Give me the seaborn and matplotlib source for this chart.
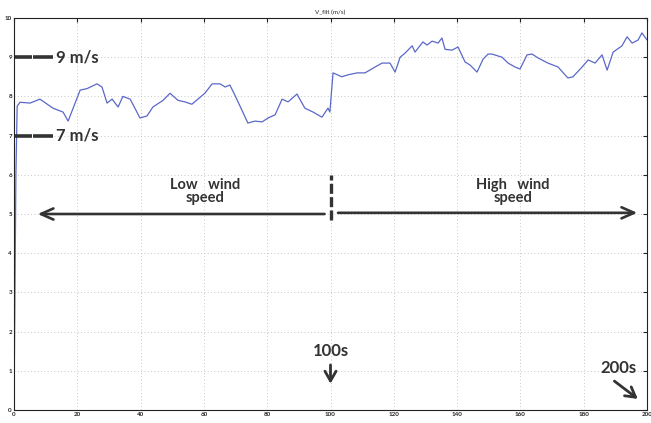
import matplotlib
matplotlib.use("Agg")
import matplotlib.pyplot as plt
import seaborn as sns
import pandas as pd

t = [0, 0.6, 1.0, 1.9, 5.1, 8.2, 12.3, 15.5, 17.1, 20.9, 23.1, 26.2, 27.8, 29.4, 31.0,
     32.9, 34.4, 36.7, 39.8, 42.0, 43.9, 47.1, 49.3, 51.8, 54.0, 56.2, 58.1, 60.3, 62.6,
     65.1, 66.7, 68.2, 69.8, 73.9, 76.1, 78.4, 80.3, 82.5, 84.7, 86.6, 89.4, 91.9, 94.5,
     97.3, 99.2, 99.8, 100.8, 103.6, 105.5, 108.4, 110.9, 114.1, 116.3, 118.8, 120.4,
     122.0, 123.5, 125.8, 126.7, 129.2, 130.5, 132.1, 134.0, 135.2, 136.2, 138.4, 140.3,
     142.5, 144.1, 146.3, 148.2, 149.8, 151.0, 154.2, 156.1, 158.3, 159.9, 162.1, 163.7,
     165.6, 168.7, 171.9, 175.0, 176.6, 179.5, 181.4, 183.6, 185.8, 187.4, 189.3, 192.1,
     193.7, 195.3, 197.2, 198.4, 200.0]
v = [0, 6.0, 7.75, 7.85, 7.83, 7.93, 7.7, 7.6, 7.37, 8.16, 8.2, 8.32, 8.24, 7.83, 7.93,
     7.73, 8.0, 7.93, 7.45, 7.5, 7.73, 7.9, 8.08, 7.9, 7.86, 7.8, 7.93, 8.08, 8.32,
     8.32, 8.24, 8.29, 8.03, 7.32, 7.37, 7.35, 7.45, 7.53, 7.93, 7.86, 8.06, 7.7, 7.6,
     7.47, 7.7, 7.6, 8.6, 8.5, 8.55, 8.6, 8.6, 8.75, 8.85, 8.85, 8.62,
     9.0, 9.1, 9.29, 9.13, 9.39, 9.31, 9.41, 9.36, 9.49, 9.2, 9.18, 9.26,
     8.88, 8.8, 8.62, 8.95, 9.08, 9.08, 9.0, 8.85, 8.75, 8.7, 9.06, 9.08,
     8.98, 8.85, 8.75, 8.47, 8.5, 8.75, 8.93, 8.85, 9.06, 8.67, 9.13, 9.29,
     9.52, 9.36, 9.44, 9.62, 9.44]

x_ticks = [0, 20, 40, 60, 80, 100, 120, 140, 160, 180, 200]
y_ticks = [0, 1, 2, 3, 4, 5, 6, 7, 8, 9, 10]
title = "V_filt (m/s)"

sns.set_style("white")
plt.rcParams['font.family'] = ['Lato', 'DejaVu Sans']

df = pd.DataFrame({"t": t, "v": v})
fig = plt.figure(figsize=(6.51, 4.23), dpi=100)
ax = fig.add_axes([14/651, 13/423, 633/651, 392/423])
sns.lineplot(data=df, x="t", y="v", ax=ax, color="#5a68c8", linewidth=0.9)

ax.set_xlim(0, 200)
ax.set_ylim(0, 10)
ax.set_xticks(x_ticks)
ax.set_yticks(y_ticks)
ax.set_xticklabels([str(x) for x in x_ticks], fontsize=4.5, fontweight="bold")
ax.set_yticklabels([str(y) for y in y_ticks], fontsize=4.5, fontweight="bold")
ax.tick_params(direction="in", length=3, width=0.8, top=True, right=True, pad=1.5,
               colors="#222222")
ax.set_xlabel("")
ax.set_ylabel("")
ax.grid(True, linestyle=(0, (1, 3)), color="#b5b5b5", linewidth=0.6)
for s in ax.spines.values():
    s.set_color("#222222")
    s.set_linewidth(0.8)
ax.set_title(title, fontsize=4.5, pad=3)

dark = "#333333"
# reference level markers
for lvl, lab in [(9, "9 m/s"), (7, "7 m/s")]:
    ax.plot([0.3, 5.6], [lvl, lvl], color=dark, linewidth=2.6, solid_capstyle="butt")
    ax.plot([6.1, 12.3], [lvl, lvl], color=dark, linewidth=2.6, solid_capstyle="butt")
    ax.text(13.4, lvl, lab, fontsize=12, fontweight="bold", color=dark,
            va="center", ha="left")

# region arrows
ax.annotate("", xy=(6.6, 5.0), xytext=(99.0, 5.0),
            arrowprops=dict(arrowstyle="->,head_length=0.9,head_width=0.4",
                            color=dark, lw=1.9))
ax.annotate("", xy=(197.8, 5.03), xytext=(101.5, 5.03),
            arrowprops=dict(arrowstyle="->,head_length=0.9,head_width=0.4",
                            color=dark, lw=1.9))
ax.plot([100, 100], [4.85, 6.0], color=dark, linewidth=2.4, linestyle=(0, (3, 1)),
        solid_capstyle="butt")
ax.text(60.5, 5.57, "Low   wind\nspeed", fontsize=10.5, fontweight="bold", color=dark,
        ha="center", va="center", linespacing=0.9)
ax.text(157.7, 5.57, "High   wind\nspeed", fontsize=10.5, fontweight="bold", color=dark,
        ha="center", va="center", linespacing=0.9)

# time markers
ax.text(100, 1.5, "100s", fontsize=12, fontweight="bold", color=dark, ha="center", va="center")
ax.annotate("", xy=(100, 0.6), xytext=(100, 1.22),
            arrowprops=dict(arrowstyle="->,head_length=0.7,head_width=0.4",
                            color=dark, lw=2.0))
ax.text(191.0, 1.07, "200s", fontsize=12, fontweight="bold", color=dark, ha="center", va="center")
ax.annotate("", xy=(197.8, 0.24), xytext=(189.0, 0.78),
            arrowprops=dict(arrowstyle="->,head_length=0.7,head_width=0.4",
                            color=dark, lw=2.0))

fig.savefig("out.png", dpi=100)
